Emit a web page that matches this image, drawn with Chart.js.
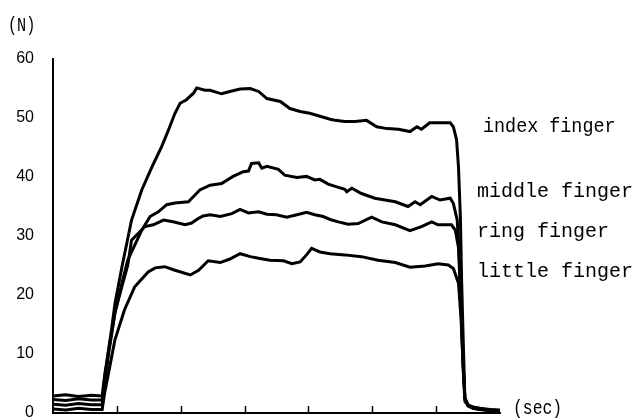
<!DOCTYPE html>
<html>
<head>
<meta charset="utf-8">
<script src="https://cdn.jsdelivr.net/npm/chart.js@4/dist/chart.umd.min.js"></script>
<style>
  html, body { margin: 0; padding: 0; background: #fff; }
  canvas { display: block; }
</style>
</head>
<body>
<canvas id="forceChart" width="635" height="420"></canvas>
<script>
// Grip force per finger over time: [seconds, newtons]
const indexFinger = [
  [0,2.9],[0.2,3.1],[0.4,2.8],[0.6,3.0],[0.77,2.9],[0.81,6.5],[0.87,10.7],[0.92,14.4],
  [0.97,18.5],[1.08,24.8],[1.23,32.7],[1.39,37.8],[1.55,41.7],[1.70,45.1],[1.81,48.0],
  [1.91,50.8],[1.99,52.5],[2.09,53.1],[2.20,54.2],[2.25,55.1],[2.38,54.7],[2.46,54.7],
  [2.64,54.1],[2.77,54.5],[2.93,54.9],[3.09,55.0],[3.22,54.5],[3.35,53.3],[3.56,52.8],
  [3.71,51.6],[3.87,51.1],[4.02,50.8],[4.18,50.3],[4.34,49.8],[4.42,49.6],[4.57,49.4],
  [4.73,49.4],[4.91,49.6],[5.07,48.5],[5.23,48.2],[5.41,48.1],[5.59,47.7],[5.70,48.5],
  [5.77,48.1],[5.90,49.2],[6.06,49.2],[6.22,49.2],[6.27,48.5],[6.32,46.3],[6.35,41.7],
  [6.38,33],[6.40,22],[6.43,10],[6.45,2.5],[6.50,1.4],[6.58,1.0],[6.69,0.8],[6.84,0.6],[7.0,0.5]
];
const middleFinger = [
  [0,2.3],[0.2,2.1],[0.4,2.4],[0.6,2.2],[0.77,2.2],[0.81,6],[0.87,10.5],[0.97,17],
  [1.08,22],[1.17,25.9],[1.39,31.0],[1.52,33.3],[1.65,34.1],[1.78,35.3],[1.91,35.6],
  [2.12,35.8],[2.22,36.9],[2.30,37.8],[2.46,38.6],[2.64,38.9],[2.82,40.1],[2.98,40.9],
  [3.06,41.0],[3.11,42.3],[3.22,42.4],[3.27,41.5],[3.35,41.8],[3.53,41.3],[3.63,40.3],
  [3.82,39.9],[3.97,40.1],[4.10,39.5],[4.18,39.6],[4.31,38.8],[4.42,38.4],[4.57,37.9],
  [4.60,37.5],[4.68,38.1],[4.83,37.2],[5.04,36.4],[5.20,36.1],[5.36,35.8],[5.56,35.0],
  [5.67,35.8],[5.75,35.3],[5.93,36.7],[6.06,36.1],[6.22,36.4],[6.27,35.5],[6.33,32.7],
  [6.36,27],[6.39,18],[6.42,9],[6.45,2.5],[6.50,1.3],[6.58,0.9],[6.69,0.7],[6.84,0.5],[7.0,0.4]
];
const ringFinger = [
  [0,1.5],[0.2,1.3],[0.4,1.6],[0.6,1.4],[0.77,1.4],[0.81,5],[0.87,10],[0.97,17],
  [1.08,21.5],[1.17,25],[1.23,29.3],[1.44,31.6],[1.57,31.9],[1.73,32.7],[1.88,32.4],
  [2.07,31.9],[2.17,32.2],[2.28,33.0],[2.35,33.4],[2.46,33.6],[2.62,33.3],[2.80,33.8],
  [2.93,34.5],[3.06,33.9],[3.22,34.1],[3.35,33.7],[3.50,33.6],[3.66,33.2],[3.82,33.6],
  [3.97,34.0],[4.10,33.6],[4.23,33.3],[4.34,32.8],[4.47,32.4],[4.62,32.0],[4.78,32.1],
  [4.99,33.2],[5.15,32.4],[5.36,31.9],[5.59,30.9],[5.77,31.6],[5.93,32.4],[6.03,31.9],
  [6.24,31.9],[6.30,31.0],[6.35,28],[6.39,18],[6.42,8],[6.45,2],[6.50,1.2],[6.58,0.8],
  [6.69,0.6],[6.84,0.5],[7.0,0.4]
];
const littleFinger = [
  [0,0.7],[0.2,0.5],[0.4,0.8],[0.6,0.6],[0.77,0.6],[0.81,3.5],[0.87,6.8],[0.97,12.4],
  [1.12,17.5],[1.28,21.4],[1.49,23.9],[1.60,24.6],[1.75,24.8],[1.91,24.2],[2.15,23.4],
  [2.28,24.2],[2.43,25.8],[2.62,25.5],[2.77,26.1],[2.93,27.0],[3.09,26.5],[3.24,26.2],
  [3.40,25.9],[3.61,25.8],[3.74,25.3],[3.87,25.6],[3.97,26.8],[4.05,27.9],[4.18,27.3],
  [4.34,27.0],[4.57,26.8],[4.83,26.5],[5.09,25.9],[5.36,25.5],[5.59,24.7],[5.83,24.9],
  [6.03,25.3],[6.19,25.1],[6.27,24.5],[6.35,22.0],[6.39,16],[6.42,9],[6.45,2.5],
  [6.50,1.2],[6.58,0.8],[6.69,0.6],[6.84,0.4],[7.0,0.3]
];

const fingerNames = ['index finger', 'middle finger', 'ring finger', 'little finger'];
const yTickValues = [0, 10, 20, 30, 40, 50, 60];
const xTickMarks = [1, 2, 3, 4, 5, 6];

const series = [indexFinger, middleFinger, ringFinger, littleFinger];

// Series names drawn to the right of the plot, plus the unit captions
const annotations = {
  id: 'annotations',
  afterDraw(chart) {
    const ctx = chart.ctx;
    const xs = chart.scales.x;
    const bottom = chart.chartArea.bottom;

    // small tick marks on the time axis, pointing up into the plot
    ctx.save();
    ctx.strokeStyle = '#000';
    ctx.lineWidth = 1.5;
    xTickMarks.forEach(t => {
      const px = Math.round(xs.getPixelForValue(t)) + 0.5;
      ctx.beginPath();
      ctx.moveTo(px, bottom);
      ctx.lineTo(px, bottom - 7);
      ctx.stroke();
    });
    ctx.restore();

    const drawText = (text, x, y, sx) => {
      ctx.save();
      ctx.translate(x, y);
      ctx.scale(sx, 1);
      ctx.fillStyle = '#000';
      ctx.textBaseline = 'alphabetic';
      ctx.textAlign = 'left';
      ctx.font = '20px "Liberation Mono"';
      ctx.fillText(text, 0, 0);
      ctx.restore();
    };

    const labelPos = [
      { x: 483, y: 132, sx: 0.92 },
      { x: 477, y: 197, sx: 1.0 },
      { x: 477, y: 237, sx: 1.0 },
      { x: 477, y: 277, sx: 1.0 }
    ];
    fingerNames.forEach((name, i) => drawText(name, labelPos[i].x, labelPos[i].y, labelPos[i].sx));

    drawText('(N)', 8, 31, 0.76);
    drawText('(sec)', 513, 414, 0.82);
  }
};

new Chart(document.getElementById('forceChart'), {
  type: 'line',
  data: {
    datasets: series.map((s, i) => ({
      label: fingerNames[i],
      data: s.map(p => ({ x: p[0], y: p[1] })),
      borderColor: '#000',
      borderWidth: 3,
      pointRadius: 0,
      tension: 0,
      fill: false
    }))
  },
  options: {
    responsive: false,
    devicePixelRatio: 1,
    animation: false,
    layout: { padding: { top: 59, right: 135, left: 0, bottom: 0 } },
    plugins: { legend: { display: false }, tooltip: { enabled: false } },
    scales: {
      x: {
        type: 'linear',
        min: 0,
        max: 7,
        ticks: { display: false },
        grid: { display: false, drawTicks: false },
        border: { display: true, color: '#000', width: 2 },
        afterFit(scale) { scale.height = 7; }
      },
      y: {
        min: 0,
        max: 60,
        afterBuildTicks(scale) { scale.ticks = yTickValues.map(v => ({ value: v })); },
        ticks: {
          padding: 19,
          color: '#000',
          font: { family: 'Liberation Sans', size: 16 }
        },
        grid: { display: false, drawTicks: false },
        border: { display: true, color: '#000', width: 2 },
        afterFit(scale) {
          scale.width = 53;
          scale.paddingTop = 0;
          scale.paddingBottom = 0;
        }
      }
    }
  },
  plugins: [annotations]
});
</script>
</body>
</html>
